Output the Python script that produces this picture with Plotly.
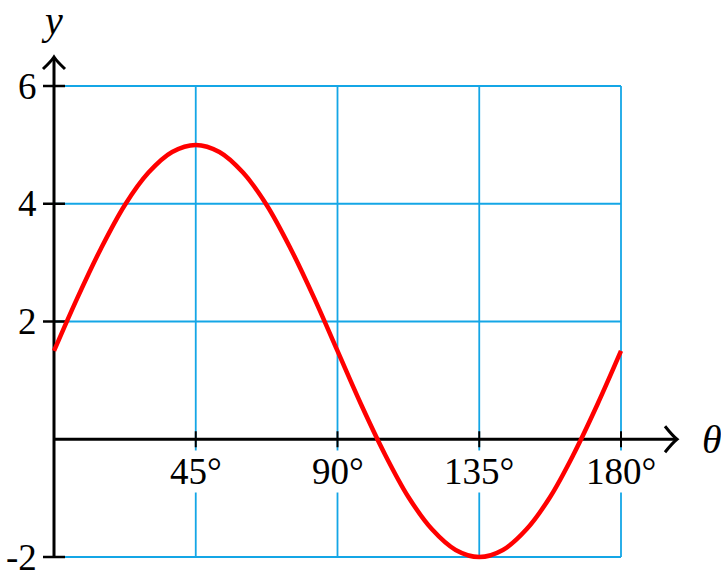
import plotly.graph_objects as go

# Data
theta_deg = [0, 7.5, 15, 22.5, 30, 37.5, 45, 52.5, 60, 67.5, 75, 82.5, 90,
             97.5, 105, 112.5, 120, 127.5, 135, 142.5, 150, 157.5, 165, 172.5, 180]
y_vals = [1.50, 2.41, 3.25, 3.98, 4.53, 4.88, 5.00, 4.88, 4.53, 3.98, 3.25, 2.41, 1.50,
          0.59, -0.25, -0.98, -1.53, -1.88, -2.00, -1.88, -1.53, -0.98, -0.25, 0.59, 1.50]
x_ticks = [45, 90, 135, 180]
x_tick_labels = ["45°", "90°", "135°", "180°"]
y_ticks = [-2, 2, 4, 6]
y_tick_labels = ["-2", "2", "4", "6"]

W, H = 721, 575
PX_X = 3.15      # px per degree
PX_Y = 58.875    # px per unit
x_range = [-54 / PX_X, (W - 54) / PX_X]
y_range = [-2 - 18 / PX_Y, 6 + 86 / PX_Y]

GRID = "#14A6E6"
FONT = "Liberation Serif"
FS = 37

fig = go.Figure()
fig.add_trace(go.Scatter(x=theta_deg, y=y_vals, mode="lines",
                         line=dict(color="#FF0000", width=4.5, shape="spline"),
                         hoverinfo="skip", showlegend=False))

shapes = []
# grid
for xv in x_ticks:
    shapes.append(dict(type="line", xref="x", yref="y", x0=xv, x1=xv, y0=-2, y1=6,
                       line=dict(color=GRID, width=1.8), layer="below"))
for yv in y_ticks:
    shapes.append(dict(type="line", xref="x", yref="y", x0=0, x1=180, y0=yv, y1=yv,
                       line=dict(color=GRID, width=1.8), layer="below"))
# axes
x_tip = (677 - 54) / PX_X
y_tip = 6 + (86 - 57) / PX_Y
shapes.append(dict(type="line", xref="x", yref="y", x0=0, x1=x_tip - 0.3, y0=0, y1=0,
                   line=dict(color="black", width=3), layer="below"))
shapes.append(dict(type="line", xref="x", yref="y", x0=0, x1=0, y0=-2, y1=y_tip - 0.02,
                   line=dict(color="black", width=3), layer="below"))
# ticks
for xv in x_ticks:
    shapes.append(dict(type="line", xref="x", yref="y", x0=xv, x1=xv,
                       y0=-8 / PX_Y, y1=8 / PX_Y,
                       line=dict(color="black", width=2), layer="below"))
for yv in y_ticks:
    shapes.append(dict(type="line", xref="x", yref="y", x0=-11 / PX_X, x1=11 / PX_X,
                       y0=yv, y1=yv, line=dict(color="black", width=2.5), layer="below"))
# arrow heads
bx, by = 12 / PX_X, 13 / PX_Y
shapes.append(dict(type="path", xref="x", yref="y",
                   path=(f"M {x_tip-bx},{by} Q {x_tip-bx*0.35},{by*0.25} {x_tip},0 "
                         f"Q {x_tip-bx*0.35},{-by*0.25} {x_tip-bx},{-by}"),
                   line=dict(color="black", width=3), layer="below"))
ax_, ay_ = 11 / PX_X, 12 / PX_Y
shapes.append(dict(type="path", xref="x", yref="y",
                   path=(f"M {-ax_},{y_tip-ay_} Q {-ax_*0.25},{y_tip-ay_*0.35} 0,{y_tip} "
                         f"Q {ax_*0.25},{y_tip-ay_*0.35} {ax_},{y_tip-ay_}"),
                   line=dict(color="black", width=3), layer="below"))

annotations = []
for xv, lab in zip(x_ticks, x_tick_labels):
    annotations.append(dict(x=xv, y=0, xref="x", yref="y", text=lab, showarrow=False,
                            yshift=-32, font=dict(family=FONT, size=FS, color="black"),
                            bgcolor="white", borderpad=0))
for yv, lab in zip(y_ticks, y_tick_labels):
    annotations.append(dict(x=0, y=yv, xref="x", yref="y", text=lab, showarrow=False,
                            xanchor="right", xshift=-16,
                            font=dict(family=FONT, size=FS, color="black"),
                            bgcolor="white", borderpad=0))
annotations.append(dict(x=(712 - 54) / PX_X, y=0, xref="x", yref="y", text="<i>θ</i>",
                        xanchor="center", showarrow=False,
                        font=dict(family=FONT, size=40, color="black")))
annotations.append(dict(x=(52 - 54) / PX_X, y=6 + 66 / PX_Y, xref="x", yref="y",
                        text="<i>y</i>", showarrow=False,
                        font=dict(family=FONT, size=40, color="black")))

fig.update_layout(
    width=W, height=H, autosize=False,
    margin=dict(l=0, r=0, t=0, b=0),
    paper_bgcolor="white", plot_bgcolor="white",
    xaxis=dict(range=x_range, visible=False, fixedrange=True),
    yaxis=dict(range=y_range, visible=False, fixedrange=True),
    shapes=shapes, annotations=annotations, showlegend=False,
)

fig.write_html("out.html", config={"displayModeBar": False},
               post_script="document.body.style.margin='0';document.body.style.overflow='hidden';")
